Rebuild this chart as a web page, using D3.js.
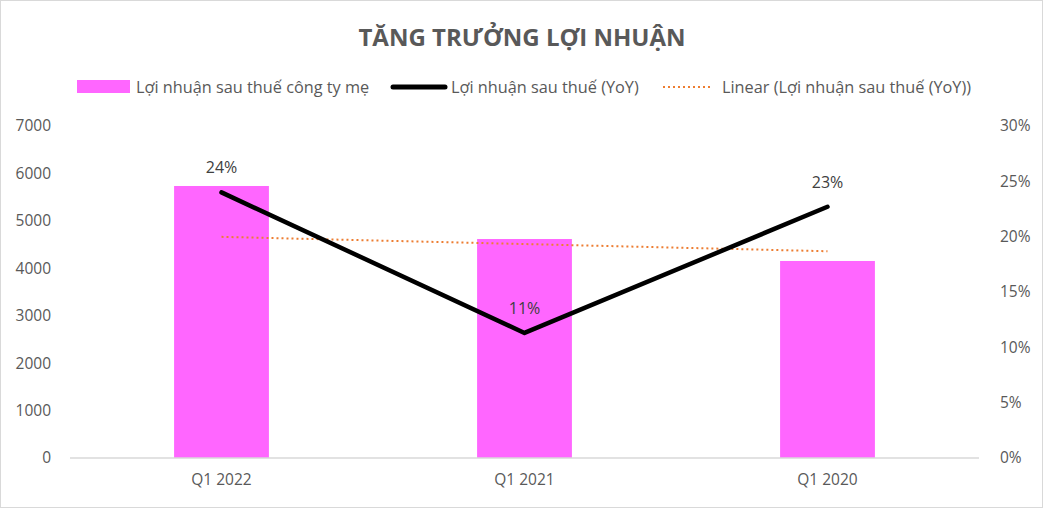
<!DOCTYPE html>
<html>
<head>
<meta charset="utf-8">
<script src="https://cdn.jsdelivr.net/npm/d3@7"></script>
<style>
  body { margin: 0; background: #fff; }
  svg { display: block; font-family: "Open Sans", sans-serif; }
</style>
</head>
<body>
<svg id="chart" width="1043" height="508"></svg>
<script>
// data
const quarters = ["Q1 2022", "Q1 2021", "Q1 2020"];
const profit = [5735, 4617, 4154];        // Lợi nhuận sau thuế công ty mẹ
const yoy = [0.24, 0.113, 0.227];          // Lợi nhuận sau thuế (YoY)
const yoyLabels = ["24%", "11%", "23%"];
const leftTicks = [0, 1000, 2000, 3000, 4000, 5000, 6000, 7000];
const rightTicks = [0, 0.05, 0.10, 0.15, 0.20, 0.25, 0.30];

const W = 1043, H = 508;
const m = { top: 126, right: 64, bottom: 50, left: 70 };
const svg = d3.select("#chart");

// outer border
svg.append("rect")
  .attr("x", 0.5).attr("y", 0.5)
  .attr("width", W - 1).attr("height", H - 1)
  .attr("fill", "#fff").attr("stroke", "#d9d9d9");

const x = d3.scaleBand()
  .domain(quarters)
  .range([m.left, W - m.right])
  .paddingInner(0.687)
  .paddingOuter(0.3435);

const yL = d3.scaleLinear().domain([0, 7000]).range([H - m.bottom, m.top]);
const yR = d3.scaleLinear().domain([0, 0.30]).range([H - m.bottom, m.top]);

// title
svg.append("text")
  .attr("x", 522).attr("y", 46)
  .attr("text-anchor", "middle")
  .attr("font-size", 24).attr("font-weight", 700)
  .attr("fill", "#595959")
  .text("TĂNG TRƯỞNG LỢI NHUẬN");

// bars
svg.selectAll(".bar")
  .data(quarters)
  .enter()
  .append("rect")
  .attr("class", "bar")
  .attr("x", d => x(d))
  .attr("width", x.bandwidth())
  .attr("y", (d, i) => yL(profit[i]))
  .attr("height", (d, i) => yL(0) - yL(profit[i]))
  .attr("fill", "#ff66ff");

// axes
const tickStyle = g => {
  g.select(".domain").remove();
  g.selectAll(".tick line").remove();
  g.selectAll(".tick text")
    .attr("fill", "#595959")
    .attr("font-size", 15.5)
    .attr("font-family", "Open Sans, sans-serif");
};

svg.append("g")
  .attr("transform", `translate(${m.left - 16},0)`)
  .call(d3.axisLeft(yL).tickValues(leftTicks).tickFormat(d3.format("d")).tickSize(0))
  .call(tickStyle);

svg.append("g")
  .attr("transform", `translate(${W - m.right + 18},0)`)
  .call(d3.axisRight(yR).tickValues(rightTicks).tickFormat(d3.format(".0%")).tickSize(0))
  .call(tickStyle);

svg.append("g")
  .attr("transform", `translate(0,${H - m.bottom})`)
  .call(d3.axisBottom(x).tickSize(0).tickPadding(16))
  .call(tickStyle);

svg.append("line")
  .attr("x1", m.left).attr("x2", W - m.right)
  .attr("y1", yL(0)).attr("y2", yL(0))
  .attr("stroke", "#d9d9d9").attr("stroke-width", 1.5);

// linear trendline of the YoY series
const xs = quarters.map((d, i) => i + 1);
const mx = d3.mean(xs), my = d3.mean(yoy);
const slope = d3.sum(xs, (v, i) => (v - mx) * (yoy[i] - my)) / d3.sum(xs, v => (v - mx) ** 2);
const trend = xs.map(v => my + slope * (v - mx));

const cx = d => x(d) + x.bandwidth() / 2;

svg.append("path")
  .datum(quarters)
  .attr("fill", "none")
  .attr("stroke", "#ed7d31")
  .attr("stroke-width", 2)
  .attr("stroke-dasharray", "2,3")
  .attr("d", d3.line().x(cx).y((d, i) => yR(trend[i])));

// YoY line
svg.append("path")
  .datum(quarters)
  .attr("fill", "none")
  .attr("stroke", "#000")
  .attr("stroke-width", 4.5)
  .attr("stroke-linecap", "round")
  .attr("stroke-linejoin", "round")
  .attr("d", d3.line().x(cx).y((d, i) => yR(yoy[i])));

// data labels
svg.selectAll(".lbl")
  .data(quarters)
  .enter()
  .append("text")
  .attr("x", cx)
  .attr("y", (d, i) => yR(yoy[i]) - 19)
  .attr("text-anchor", "middle")
  .attr("font-size", 16)
  .attr("fill", "#404040")
  .text((d, i) => yoyLabels[i]);

// legend
const lg = svg.append("g").attr("font-size", 16.3).attr("fill", "#595959");
lg.append("rect").attr("x", 77).attr("y", 80).attr("width", 53).attr("height", 13).attr("fill", "#ff66ff");
lg.append("text").attr("x", 136).attr("y", 92.5).attr("fill", "#595959").text("Lợi nhuận sau thuế công ty mẹ");
lg.append("line").attr("x1", 393).attr("x2", 445).attr("y1", 87).attr("y2", 87)
  .attr("stroke", "#000").attr("stroke-width", 5).attr("stroke-linecap", "round");
lg.append("text").attr("x", 451).attr("y", 92.5).attr("fill", "#595959").text("Lợi nhuận sau thuế (YoY)");
lg.append("line").attr("x1", 663).attr("x2", 713).attr("y1", 87).attr("y2", 87)
  .attr("stroke", "#ed7d31").attr("stroke-width", 2).attr("stroke-dasharray", "2,3");
lg.append("text").attr("x", 722).attr("y", 92.5).attr("fill", "#595959").text("Linear (Lợi nhuận sau thuế (YoY))");
</script>
</body>
</html>
